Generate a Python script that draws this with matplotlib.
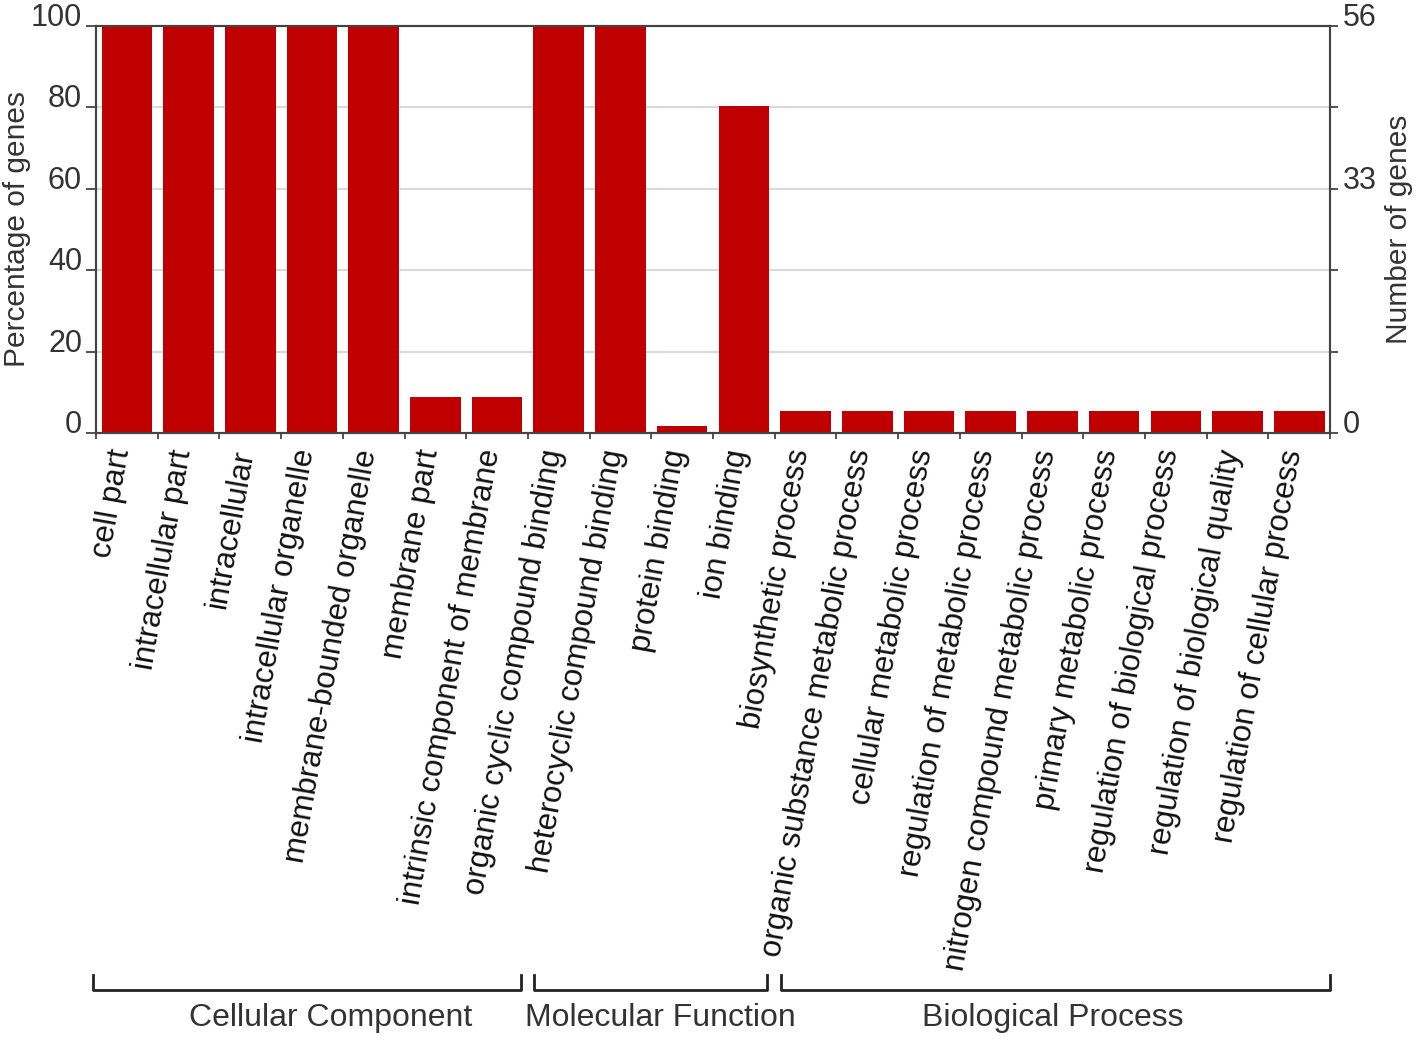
import matplotlib
matplotlib.use("Agg")
import matplotlib.pyplot as plt
import matplotlib.transforms as mtransforms
import numpy as np

plt.rcParams['font.family'] = ['Liberation Sans', 'DejaVu Sans']

categories = [
    'cell part', 'intracellular part', 'intracellular', 'intracellular organelle',
    'membrane-bounded organelle', 'membrane part', 'intrinsic component of membrane',
    'organic cyclic compound binding', 'heterocyclic compound binding',
    'protein binding', 'ion binding', 'biosynthetic process',
    'organic substance metabolic process', 'cellular metabolic process',
    'regulation of metabolic process', 'nitrogen compound metabolic process',
    'primary metabolic process', 'regulation of biological process',
    'regulation of biological quality', 'regulation of cellular process',
]
gene_counts = [56, 56, 56, 56, 56, 5, 5, 56, 56, 1, 45,
               3, 3, 3, 3, 3, 3, 3, 3, 3]
gene_total = 56

groups = ['Cellular Component', 'Molecular Function', 'Biological Process']
group_spans = [(0, 6), (7, 10), (11, 19)]

pct_ticks = [0, 20, 40, 60, 80, 100]
right_labelled = [0, 60, 100]

TEXT = '#333333'
AXC = '#444444'
RED = '#c00000'

pct = np.array(gene_counts) / gene_total * 100
x = np.arange(len(categories))
n = len(categories)

fig = plt.figure(figsize=(14.18, 10.4), dpi=100)
ax = fig.add_axes([0.0677, 0.5837, 0.8703, 0.3913])

ax.bar(x, pct, width=0.82, color=RED, zorder=3)
ax.set_xlim(-0.5, n - 0.5)
ax.set_ylim(0, 100)

ax.set_yticks(pct_ticks)
ax.yaxis.grid(True, color='#d9d9d9', linewidth=1.5, zorder=0)
ax.tick_params(axis='y', length=7, width=1.3, color=AXC, labelsize=22,
               labelcolor=TEXT, pad=3)
for lab in ax.get_yticklabels():
    lab.set_va('baseline')
ax.set_ylabel('Percentage of genes', fontsize=21.5, color=TEXT)
ax.yaxis.set_label_coords(-0.053, 0.5)

# category ticks sit between the bars
ax.set_xticks(np.arange(-0.5, n))
ax.set_xticklabels([])
ax.tick_params(axis='x', length=4.5, width=1.3, color=AXC)
for xi, name in zip(x, categories):
    ax.annotate(name, xy=(xi, 0), xycoords=('data', 'axes fraction'),
                xytext=(-4, -12), textcoords='offset points',
                rotation=80, rotation_mode='anchor', ha='right', va='center',
                fontsize=22.5, color='#111111')

for side in ['left', 'right', 'top', 'bottom']:
    ax.spines[side].set_color(AXC)
    ax.spines[side].set_linewidth(1.5)

ax2 = ax.twinx()
ax2.set_ylim(0, 100)
ax2.set_yticks(pct_ticks)
ax2.set_yticklabels([str(int(t / 100 * gene_total)) if t in right_labelled else ''
                     for t in pct_ticks])
ax2.tick_params(axis='y', length=6, width=1.3, color=AXC, labelsize=22,
                labelcolor=TEXT, pad=3)
for lab in ax2.get_yticklabels():
    lab.set_va('baseline')
ax2.set_ylabel('Number of genes', fontsize=21.5, color=TEXT)
ax2.yaxis.set_label_coords(1.0446, 0.5)
for side in ['left', 'right', 'top', 'bottom']:
    ax2.spines[side].set_color(AXC)
    ax2.spines[side].set_linewidth(1.5)

# group brackets under the labels
trans = mtransforms.blended_transform_factory(ax.transData, ax.transAxes)
y_line, y_end, y_text = -1.369, -1.332, -1.437
text_nudge = [0.3, 0.15, 0.0]
for name, (first, last), dx in zip(groups, group_spans, text_nudge):
    x0 = first - 0.4 if first > 0 else -0.55
    x1 = last + 0.38 if last < n - 1 else n - 0.5
    ax.plot([x0, x0, x1, x1], [y_end, y_line, y_line, y_end], transform=trans,
            color='#222222', linewidth=2, clip_on=False, solid_joinstyle='round')
    ax.text((first + last) / 2 + dx, y_text, name, transform=trans, ha='center',
            va='center', fontsize=23, color=TEXT)

fig.savefig('out.png', dpi=100)
